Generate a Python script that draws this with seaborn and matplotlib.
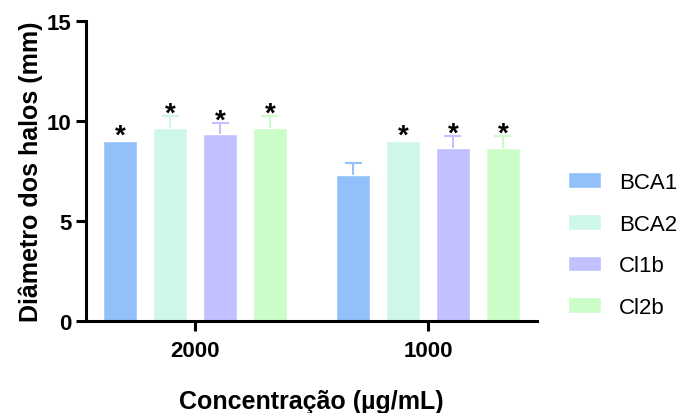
import pandas as pd
import matplotlib.pyplot as plt
import seaborn as sns

# Values
concentrations = ['2000', '1000']
strains = ['BCA1', 'BCA2', 'Cl1b', 'Cl2b']
bca1 = [9.0, 7.3]
bca2 = [9.65, 9.0]
cl1b = [9.35, 8.65]
cl2b = [9.65, 8.65]
bca1_err = [0.0, 0.6]
bca2_err = [0.6, 0.0]
cl1b_err = [0.55, 0.6]
cl2b_err = [0.6, 0.6]
bca1_sig = [True, False]
bca2_sig = [True, True]
cl1b_sig = [True, True]
cl2b_sig = [True, True]

colors = ['#92c0fa', '#cef7e7', '#c2c0fe', '#cbfdc8']

means = [bca1, bca2, cl1b, cl2b]
errs = [bca1_err, bca2_err, cl1b_err, cl2b_err]
sigs = [bca1_sig, bca2_sig, cl1b_sig, cl2b_sig]

rows = []
for s, vals in zip(strains, means):
    for c, v in zip(concentrations, vals):
        rows.append({'conc': c, 'strain': s, 'diam': v})
df = pd.DataFrame(rows)

sns.set_theme(style='ticks')
plt.rcParams['font.family'] = ['Liberation Sans', 'DejaVu Sans']
plt.rcParams['text.color'] = 'black'
plt.rcParams['axes.labelcolor'] = 'black'
plt.rcParams['xtick.color'] = 'black'
plt.rcParams['ytick.color'] = 'black'

fig = plt.figure(figsize=(6.86, 4.14), dpi=100)
ax = fig.add_axes([0.1254, 0.2222, 0.6574, 0.7246])

sns.barplot(data=df, x='conc', y='diam', hue='strain', order=concentrations,
            hue_order=strains, palette=colors, saturation=1, width=0.858,
            gap=0.32, errorbar=None, ax=ax, zorder=2)

# upper-only error bars + significance stars
bar_conts = list(ax.containers)
for i, cont in enumerate(bar_conts):
    for j, bar in enumerate(cont):
        x = bar.get_x() + bar.get_width() / 2
        w = bar.get_width() / 4
        h = bar.get_height()
        e = errs[i][j]
        if e > 0:
            ax.vlines(x, h, h + e, color=colors[i], lw=1.5, zorder=1)
            ax.hlines(h + e, x - w, x + w, color=colors[i], lw=1.5, zorder=1)
            star_y = h + e + 0.1
        else:
            star_y = h + 0.25
        if sigs[i][j]:
            ax.text(x, star_y, '*', ha='center', va='center',
                    fontsize=20, fontweight='bold', color='black', zorder=3)

ax.set_xlim(-0.468, 1.468)
ax.set_ylim(0, 15)
ax.set_yticks([0, 5, 10, 15])
sns.despine(ax=ax)
for sp in ['left', 'bottom']:
    ax.spines[sp].set_linewidth(2.2)
    ax.spines[sp].set_color('black')
ax.tick_params(axis='both', width=2.2, length=7.5, color='black', labelsize=16, pad=3)
ax.tick_params(axis='x', pad=6)
for lab in ax.get_xticklabels() + ax.get_yticklabels():
    lab.set_fontweight('bold')

ax.set_xlabel('Concentração (µg/mL)', fontsize=18, fontweight='bold', labelpad=20)
ax.set_ylabel('Diâmetro dos halos (mm)', fontsize=18, fontweight='bold', labelpad=3)

sns.move_legend(ax, 'center left', bbox_to_anchor=(0.828, 0.406),
                bbox_transform=fig.transFigure, frameon=False, title=None,
                fontsize=16, handlelength=1.5, handleheight=0.7,
                labelspacing=0.93, handletextpad=0.8, borderpad=0,
                borderaxespad=0)

fig.savefig('out.png', dpi=100)
